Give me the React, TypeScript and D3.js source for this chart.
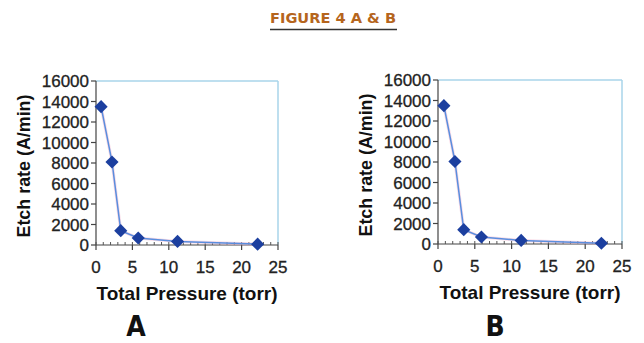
import React from "react";
import * as d3 from "d3";

const pressureA = [0.7, 2.2, 3.4, 5.8, 11.2, 22.2];
const etchA = [13500, 8100, 1400, 680, 350, 80];
const pressureB = [0.8, 2.3, 3.5, 5.9, 11.3, 22.2];
const etchB = [13500, 8050, 1400, 680, 350, 70];
const yTicks = [0, 2000, 4000, 6000, 8000, 10000, 12000, 14000, 16000];
const xTicks = [0, 5, 10, 15, 20, 25];
const xMinorTicks = d3.range(0, 26, 1);
const titleText = "FIGURE 4 A & B";
const panelLabels = ["A", "B"];
const xTitle = "Total Pressure (torr)";
const yTitle = "Etch rate (A/min)";

const FONT = "'Liberation Sans', Arial, sans-serif";
const NARROW = "'Liberation Sans Narrow', 'DejaVu Sans Condensed', Arial, sans-serif";

type PanelProps = {
  left: number; right: number; top: number; bottom: number;
  xs: number[]; ys: number[]; label: string; labelX: number;
};

function Panel({ left, right, top, bottom, xs, ys, label, labelX }: PanelProps) {
  const x = d3.scaleLinear().domain([0, 25]).range([left, right]);
  const y = d3.scaleLinear().domain([0, 16000]).range([bottom, top]);
  const pts = xs.map((v, i) => [v, ys[i]] as [number, number]);
  const line = d3.line<[number, number]>().x((d) => x(d[0])).y((d) => y(d[1]));
  const diamond = d3.symbol().type(d3.symbolDiamond2).size(110)()!;
  const cx = (left + right) / 2;
  const cy = (top + bottom) / 2;
  return (
    <g>
      <line x1={left} x2={right} y1={top} y2={top} stroke="#a8d4ea" strokeWidth={1.5} />
      <line x1={right} x2={right} y1={top} y2={bottom} stroke="#a8d4ea" strokeWidth={1.5} />
      <line x1={left} x2={left} y1={top} y2={bottom} stroke="#444" strokeWidth={1.2} />
      <line x1={left} x2={right} y1={bottom} y2={bottom} stroke="#444" strokeWidth={1.2} />
      {yTicks.map((t) => (
        <g key={"y" + t}>
          <line x1={left - 5} x2={left} y1={y(t)} y2={y(t)} stroke="#444" strokeWidth={1.2} />
          <text x={left - 7} y={y(t)} dy="0.36em" textAnchor="end" fontFamily={FONT} fontSize={17} fill="#222" stroke="#222" strokeWidth={0.3}>{t}</text>
        </g>
      ))}
      {xMinorTicks.map((t) => (
        <line key={"m" + t} x1={x(t)} x2={x(t)} y1={bottom - 3} y2={bottom} stroke="#555" strokeWidth={1} />
      ))}
      {xTicks.map((t) => (
        <g key={"x" + t}>
          <line x1={x(t)} x2={x(t)} y1={bottom} y2={bottom + 5} stroke="#444" strokeWidth={1.2} />
          <text x={x(t)} y={bottom + 22} dy="0.36em" textAnchor="middle" fontFamily={FONT} fontSize={17} fill="#222" stroke="#222" strokeWidth={0.3}>{t}</text>
        </g>
      ))}
      <path d={line(pts)!} fill="none" stroke="#f2b8d0" strokeWidth={3} opacity={0.5} />
      <path d={line(pts)!} fill="none" stroke="#5a8ede" strokeWidth={1.5} />
      {pts.map((p, i) => (
        <path key={i} d={diamond} transform={`translate(${x(p[0])},${y(p[1])})`} fill="#1c3f9f" />
      ))}
      <text x={cx} y={bottom + 55} textAnchor="middle" fontFamily={FONT} fontWeight="bold" fontSize={19} fill="#111" textLength={181} lengthAdjust="spacingAndGlyphs">{xTitle}</text>
      <text transform={`translate(${left - 66},${cy + 3}) rotate(-90)`} textAnchor="middle" fontFamily={FONT} fontWeight="bold" fontSize={19} fill="#111" textLength={143} lengthAdjust="spacingAndGlyphs">{yTitle}</text>
      <text x={labelX} y={336} textAnchor="middle" fontFamily={NARROW} fontWeight="bold" fontSize={28} fill="#111">{label}</text>
    </g>
  );
}

export default function App() {
  return (
    <svg width={644} height={343} style={{ position: "absolute", left: 0, top: 0, background: "#fff" }}>
      <rect width={644} height={343} fill="#fff" />
      <text x={333} y={23} textAnchor="middle" fontFamily={NARROW} fontWeight="bold" fontSize={14.5} fill="#b5651d" textLength={126} lengthAdjust="spacingAndGlyphs">{titleText}</text>
      <line x1={270} x2={397} y1={29.5} y2={29.5} stroke="#333" strokeWidth={1.6} />
      <Panel left={96} right={278} top={81} bottom={245} xs={pressureA} ys={etchA} label={panelLabels[0]} labelX={136} />
      <Panel left={438} right={622} top={80} bottom={244} xs={pressureB} ys={etchB} label={panelLabels[1]} labelX={495} />
    </svg>
  );
}
